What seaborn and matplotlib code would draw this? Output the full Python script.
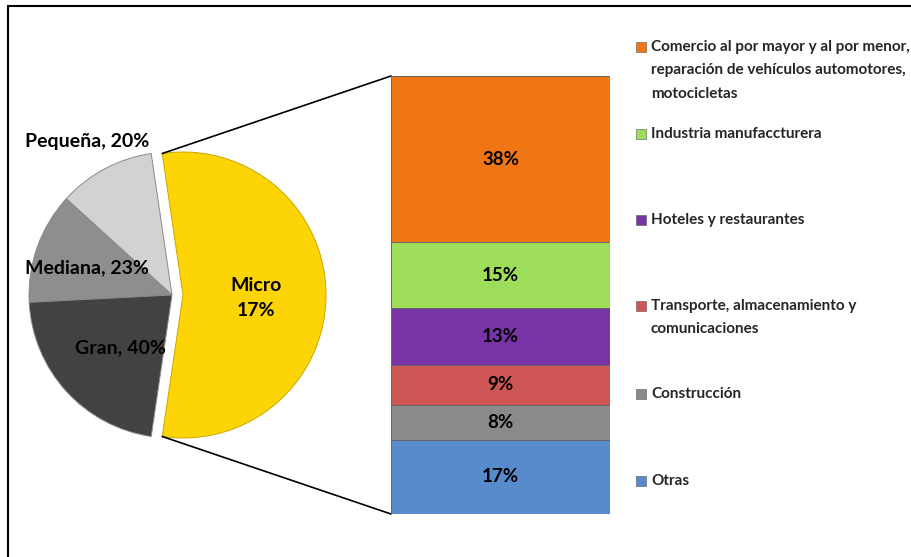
import matplotlib
matplotlib.use("Agg")
import matplotlib.pyplot as plt
import seaborn as sns
import numpy as np
from matplotlib.lines import Line2D
from matplotlib.patches import Rectangle
from matplotlib import font_manager as fm

# ---- data ----
pie_categories = ["Micro", "Pequeña", "Mediana", "Gran"]
pie_other_values = [20, 23, 40]          # Pequeña, Mediana, Gran
pie_label_pct = ["17%", "20%", "23%", "40%"]
pie_colors = ["#FDD406", "#D2D2D2", "#8E8E8E", "#424242"]

bar_categories = [
    "Comercio al por mayor y al por menor,\nreparación de vehículos automotores,\nmotocicletas",
    "Industria manufaccturera",
    "Hoteles y restaurantes",
    "Transporte, almacenamiento y\ncomunicaciones",
    "Construcción",
    "Otras",
]
bar_values = [38, 15, 13, 9, 8, 17]
bar_colors = ["#F07613", "#9DDD59", "#7834A6", "#CD5654", "#8A8A8A", "#588BCB"]

sns.set_theme(style="white")
names = {f.name for f in fm.fontManager.ttflist}
main_font = "Lato" if "Lato" in names else "DejaVu Sans"
plt.rcParams["font.family"] = [main_font, "DejaVu Sans"]

W, H = 912, 557
fig = plt.figure(figsize=(W / 100, H / 100), dpi=100)
fig.patch.set_facecolor("white")

# pixel-coordinate axes for the pie
ax = fig.add_axes([0, 0, 1, 1])
ax.set_xlim(0, W)
ax.set_ylim(0, H)
ax.set_aspect("equal")
ax.axis("off")

micro_value = sum(bar_values)
pie_values = [micro_value] + pie_other_values
total = sum(pie_values)
micro_angle = micro_value / total * 360.0
cx, cy, R = 172, H - 295, 143
explode_px = 11
wedges, _ = ax.pie(
    pie_values, colors=pie_colors, startangle=-micro_angle / 2,
    counterclock=True, center=(cx, cy), radius=R,
    explode=[explode_px, 0, 0, 0],
    wedgeprops=dict(edgecolor="#8a8a8a", linewidth=0.7),
)
wedges[0].set_edgecolor("#C9A800")
ax.set_xlim(0, W)
ax.set_ylim(0, H)

bold = dict(fontweight="bold", color="black")
fs_pie = 14
ax.text(87, H - 142, f"{pie_categories[1]}, {pie_label_pct[1]}", ha="center", va="center", fontsize=fs_pie, **bold)
ax.text(87, H - 268, f"{pie_categories[2]}, {pie_label_pct[2]}", ha="center", va="center", fontsize=fs_pie, **bold)
ax.text(120, H - 348, f"{pie_categories[3]}, {pie_label_pct[3]}", ha="center", va="center", fontsize=fs_pie, **bold)
ax.text(256, H - 298, f"{pie_categories[0]}\n{pie_label_pct[0]}", ha="center", va="center", fontsize=fs_pie,
        linespacing=1.55, **bold)

# stacked bar
bx0, by_top, bw, bh = 391, 76, 219, 438
ax2 = fig.add_axes([bx0 / W, (H - by_top - bh) / H, bw / W, bh / H])
ax2.set_xlim(-0.5, 0.5)
ax2.set_ylim(0, micro_value)
ax2.axis("off")
bottom = 0
for v, c in zip(bar_values[::-1], bar_colors[::-1]):
    ax2.bar([0], [v], bottom=bottom, width=1.0, color=c, edgecolor="#666666", linewidth=0.7)
    ax2.text(0, bottom + v / 2, f"{v}%", ha="center", va="center", fontsize=13.5, **bold)
    bottom += v

# connector lines
mx = cx + explode_px
a = np.deg2rad(micro_angle / 2)
top_pt = (mx + R * np.cos(a), cy + R * np.sin(a))
bot_pt = (mx + R * np.cos(-a), cy + R * np.sin(-a))
ax.add_line(Line2D([top_pt[0], bx0], [top_pt[1], H - by_top], color="black", lw=1.2))
ax.add_line(Line2D([bot_pt[0], bx0], [bot_pt[1], H - by_top - bh], color="black", lw=1.2))

# legend (manual)
leg_y = [47, 134, 220, 306, 394, 481]
for lab, c, y in zip(bar_categories, bar_colors, leg_y):
    ax.add_patch(Rectangle((636, H - y - 5), 10, 10, facecolor=c, edgecolor="#555555", lw=0.4))
    ax.text(651, H - y + 7, lab, ha="left", va="top", fontsize=11, fontweight="bold",
            linespacing=1.85)

# chart border (top and left)
ax.add_line(Line2D([8, W], [H - 5.5, H - 5.5], color="black", lw=1.5))
ax.add_line(Line2D([8.5, 8.5], [0, H - 5.5], color="black", lw=1.5))

fig.savefig("out.png", dpi=100, facecolor="white")
